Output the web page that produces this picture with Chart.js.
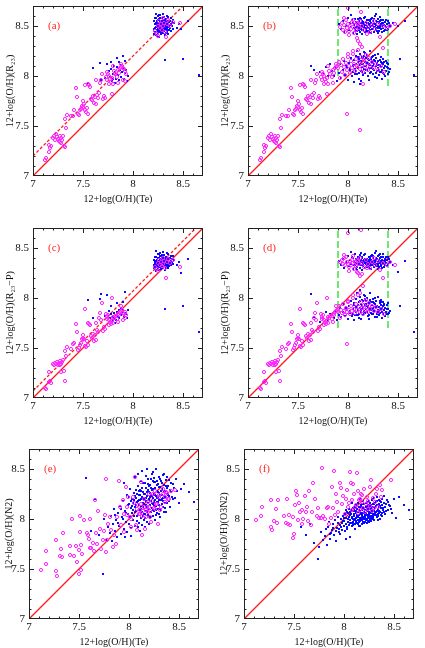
<!DOCTYPE html>
<html>
<head>
<meta charset="utf-8">
<script src="https://cdn.jsdelivr.net/npm/chart.js@4.4.1/dist/chart.umd.min.js"></script>
<style>
html, body { margin: 0; padding: 0; background: #fff; overflow: hidden; width: 425px; height: 648px; }
canvas { position: absolute; }
</style>
</head>
<body>
<canvas id="pa" width="211" height="214" style="left:0;top:0"></canvas>
<canvas id="pb" width="211" height="214" style="left:215px;top:0"></canvas>
<canvas id="pc" width="211" height="214" style="left:0;top:222px"></canvas>
<canvas id="pd" width="211" height="214" style="left:215px;top:222px"></canvas>
<canvas id="pe" width="207" height="214" style="left:0;top:443px"></canvas>
<canvas id="pf" width="207" height="214" style="left:215px;top:443px"></canvas>
<script>
// H II regions (open circles): Te, R23, R23-P
const magAC = [
  [7.12,7.16,7.10],[7.13,7.18,7.09],[7.16,7.24,7.16],[7.17,7.28,7.17],[7.16,7.31,7.26],[7.18,7.30,7.15],
  [7.20,7.38,7.34],[7.21,7.40,7.33],[7.22,7.36,7.35],[7.23,7.42,7.34],[7.24,7.39,7.36],[7.25,7.37,7.33],
  [7.26,7.35,7.35],[7.27,7.34,7.37],[7.28,7.38,7.34],[7.29,7.36,7.36],[7.30,7.40,7.38],[7.31,7.30,7.27],
  [7.32,7.29,7.17],[7.33,7.48,7.42],[7.27,7.40,7.33],[7.28,7.33,7.26],[7.32,7.57,7.47],[7.34,7.61,7.51],
  [7.38,7.60,7.49],[7.40,7.60,7.54],[7.41,7.66,7.55],[7.43,7.88,7.74],[7.44,7.79,7.66],[7.45,7.62,7.48],
  [7.46,7.61,7.50],[7.47,7.66,7.53],[7.48,7.67,7.55],[7.49,7.70,7.59],[7.50,7.69,7.60],[7.50,7.75,7.63],
  [7.51,7.72,7.59],[7.52,7.91,7.89],[7.52,7.66,7.52],[7.53,7.64,7.51],[7.54,7.68,7.57],[7.55,7.92,7.75],
  [7.55,7.62,7.53],[7.56,7.91,7.74],[7.57,7.89,7.73],[7.58,7.77,7.62],[7.59,7.76,7.60],[7.60,7.80,7.64],
  [7.61,7.73,7.57],[7.62,7.79,7.63],[7.63,7.72,7.58],[7.64,7.81,7.68],[7.65,7.78,7.66],[7.66,7.83,7.80],
  [7.67,7.93,7.85],[7.68,7.96,7.78],[7.70,7.77,7.67],[7.71,7.80,7.71],[7.72,7.78,7.69],[7.73,7.99,7.84],
  [7.74,7.96,7.81],[7.75,8.02,7.83],[7.76,8.00,7.78],[7.77,7.97,7.76],[7.78,7.94,7.74],[7.79,7.82,8.00],
  [7.79,7.98,7.77],[7.80,7.92,7.75],[7.81,8.05,7.80],[7.76,7.92,7.73],[7.74,8.04,7.79],[7.82,8.02,7.82],
  [7.84,7.99,7.79],[7.85,8.06,7.84],[7.86,8.03,7.83],[7.87,8.08,7.86],[7.88,8.09,7.87],[7.89,8.10,7.88],
  [7.90,8.08,7.85],[7.91,8.07,7.84],[7.92,8.05,7.86],[7.93,8.02,7.83],[7.90,7.96,7.78],[7.92,7.95,7.80],
  [7.88,8.12,7.92],[7.80,8.10,7.81],[7.85,7.93,7.76],[7.63,7.96,7.75],[7.69,8.02,7.95],
  [8.22,8.45,8.31],[8.24,8.42,8.29],[8.25,8.50,8.35],[8.26,8.55,8.38],[8.27,8.48,8.33],[8.28,8.52,8.36],
  [8.29,8.46,8.32],[8.30,8.50,8.34],[8.31,8.53,8.37],[8.32,8.44,8.30],[8.33,8.39,8.20],[8.34,8.52,8.36],
  [8.35,8.56,8.39],[8.37,8.50,8.35],[8.40,8.54,8.38],[8.47,8.53,8.31],[8.25,8.40,8.27],[8.30,8.58,8.40]
];

// SDSS galaxies (dots): Te, R23, R23-P
const blueAC = [
  [8.21,8.47,8.33],[8.22,8.52,8.36],[8.22,8.44,8.31],[8.23,8.58,8.41],[8.23,8.49,8.35],[8.23,8.41,8.27],
  [8.24,8.55,8.38],[8.24,8.46,8.32],[8.24,8.51,8.34],[8.25,8.60,8.44],[8.25,8.48,8.36],[8.25,8.43,8.30],
  [8.25,8.53,8.37],[8.26,8.50,8.35],[8.26,8.45,8.33],[8.26,8.57,8.40],[8.26,8.39,8.28],[8.27,8.52,8.36],
  [8.27,8.47,8.34],[8.27,8.55,8.39],[8.27,8.44,8.31],[8.27,8.61,8.45],[8.28,8.49,8.35],[8.28,8.53,8.38],
  [8.28,8.46,8.33],[8.28,8.58,8.42],[8.28,8.42,8.29],[8.29,8.51,8.37],[8.29,8.48,8.34],[8.29,8.55,8.40],
  [8.29,8.44,8.32],[8.30,8.50,8.36],[8.30,8.47,8.33],[8.30,8.56,8.41],[8.30,8.53,8.38],[8.30,8.43,8.30],
  [8.31,8.49,8.35],[8.31,8.52,8.37],[8.31,8.45,8.32],[8.31,8.59,8.43],[8.32,8.51,8.36],[8.32,8.48,8.34],
  [8.32,8.54,8.39],[8.32,8.41,8.28],[8.33,8.50,8.35],[8.33,8.46,8.33],[8.33,8.57,8.41],[8.34,8.52,8.37],
  [8.34,8.48,8.34],[8.34,8.44,8.31],[8.35,8.53,8.38],[8.35,8.49,8.35],[8.35,8.59,8.44],[8.36,8.51,8.36],
  [8.36,8.46,8.32],[8.37,8.55,8.40],[8.37,8.48,8.34],[8.38,8.52,8.37],[8.38,8.45,8.33],[8.39,8.50,8.36],
  [8.40,8.56,8.42],[8.40,8.47,8.34],[8.41,8.53,8.38],[8.21,8.55,8.38],[8.22,8.48,8.34],[8.23,8.62,8.47],
  [8.24,8.40,8.28],[8.25,8.56,8.40],[8.26,8.53,8.37],[8.27,8.49,8.35],[8.28,8.51,8.36],[8.29,8.58,8.43],
  [8.30,8.45,8.31],[8.31,8.54,8.39],[8.32,8.47,8.33],[8.33,8.53,8.38],[8.34,8.60,8.45],[8.35,8.46,8.33],
  [8.36,8.54,8.39],[8.37,8.51,8.36],[8.38,8.58,8.42],[8.26,8.47,8.33],[8.27,8.58,8.42],[8.28,8.45,8.32],
  [8.29,8.52,8.37],[8.30,8.62,8.46],[8.31,8.47,8.33],[8.32,8.56,8.40],[8.33,8.43,8.30],[8.24,8.50,8.35],
  [8.25,8.45,8.32],[8.22,8.58,8.41],[8.23,8.53,8.37],[8.34,8.55,8.40],[8.36,8.49,8.35],[8.39,8.54,8.39],
  [8.21,8.42,8.30],[8.26,8.61,8.44],[8.35,8.42,8.30],
  [8.44,8.48,8.33],[8.46,8.52,8.36],[8.55,8.55,8.39],[8.32,8.16,7.89],[8.50,8.17,7.92],[8.66,8.01,7.66],
  [8.48,8.47,8.25],
  [7.60,8.08,7.80],[7.67,8.13,7.99],[7.72,7.98,7.82],[7.74,8.12,8.03],[7.76,8.05,7.87],[7.77,7.99,7.80],
  [7.78,8.07,7.84],[7.79,7.95,7.76],[7.80,8.02,7.81],[7.81,8.10,7.85],[7.82,8.04,7.79],[7.83,7.97,7.78],
  [7.84,8.09,7.86],[7.85,8.01,7.82],[7.86,8.14,7.88],[7.86,7.96,7.80],[7.87,8.06,7.84],[7.88,8.11,7.90],
  [7.88,7.99,7.83],[7.89,8.04,7.86],[7.90,8.20,7.96],[7.90,8.08,7.88],[7.91,7.97,7.81],[7.92,8.03,7.85],
  [7.93,8.06,7.84],[7.94,7.95,7.80],[7.95,8.00,7.88],[7.78,8.14,7.92],[7.82,7.93,7.75],[7.84,8.18,7.95],
  [7.80,7.97,7.78],[7.92,8.15,8.06],[7.55,7.93,7.98],[7.68,7.96,8.04]
];

// double-valued region: upper and lower branch, Te, R23, R23-P
const magBDup = [
  [7.92,8.49,8.36],[7.94,8.53,8.38],[7.95,8.46,8.34],[7.96,8.51,8.40],[7.97,8.44,8.33],[7.98,8.56,8.41],
  [7.99,8.48,8.36],[8.00,8.52,8.34],[8.01,8.45,8.31],[8.02,8.50,8.37],[8.03,8.47,8.33],[8.04,8.54,8.38],
  [8.05,8.49,8.35],[8.06,8.43,8.29],[8.07,8.51,8.36],[8.08,8.46,8.32],[8.10,8.52,8.37],[8.11,8.48,8.34],
  [8.12,8.55,8.40],[8.14,8.50,8.35],[8.16,8.46,8.31],[8.18,8.53,8.38],[8.20,8.49,8.34],[8.22,8.44,8.30],
  [8.24,8.51,8.36],[8.27,8.47,8.33],[8.30,8.52,8.37],[8.32,8.39,8.28],[8.35,8.50,8.35],[8.39,8.48,8.33],
  [8.42,8.50,8.36],[8.47,8.52,8.33],[8.00,8.68,8.65],[8.13,8.64,8.68],[8.10,8.35,8.25],[8.12,8.32,8.22],
  [8.09,8.38,8.26],[8.14,8.29,8.24],[7.96,8.58,8.43],[8.01,8.41,8.27],[8.05,8.56,8.42],[8.09,8.53,8.38],
  [8.26,8.55,8.40],[8.19,8.42,8.30]
];
const magBDlo = [
  [7.90,8.08,7.86],[7.91,8.14,7.92],[7.92,7.98,7.80],[7.93,8.11,7.88],[7.94,8.04,7.85],[7.95,8.17,7.94],
  [7.96,8.09,7.87],[7.97,8.01,7.83],[7.98,8.13,7.90],[7.99,8.06,7.86],[8.00,8.19,7.96],[8.01,8.10,7.88],
  [8.02,8.03,7.84],[8.03,8.15,7.92],[8.04,8.08,7.87],[8.05,8.22,8.00],[8.06,8.12,7.89],[8.07,8.05,7.85],
  [8.08,8.17,7.94],[8.09,8.10,7.88],[8.10,8.26,8.03],[8.11,8.14,7.91],[8.12,8.07,7.86],[8.13,8.19,7.96],
  [8.14,8.11,7.90],[8.15,8.04,7.84],[8.16,8.16,7.93],[8.17,8.09,7.88],[8.18,8.21,7.98],[8.19,8.13,7.91],
  [8.20,8.06,7.86],[8.21,8.18,7.95],[8.22,8.10,7.89],[8.24,8.14,7.92],[8.26,8.08,7.87],[8.28,8.12,7.91],
  [8.30,8.06,7.86],[8.33,8.10,7.89],[8.36,8.04,7.84],[7.99,7.62,7.54],[8.12,7.46,8.05],[8.15,7.92,8.12],
  [8.35,8.28,8.20],[8.05,8.25,8.03],[8.00,8.22,7.97]
];
const blueBDup = [
  [7.91,8.52,8.37],[7.93,8.47,8.33],[7.95,8.55,8.39],[7.96,8.44,8.30],[7.98,8.50,8.36],[8.00,8.58,8.42],
  [8.01,8.46,8.32],[8.02,8.53,8.38],[8.03,8.49,8.34],[8.04,8.56,8.41],[8.05,8.43,8.29],[8.06,8.51,8.36],
  [8.07,8.47,8.33],[8.08,8.54,8.39],[8.08,8.49,8.35],[8.09,8.45,8.31],[8.10,8.52,8.37],[8.10,8.57,8.41],
  [8.11,8.48,8.34],[8.12,8.50,8.35],[8.12,8.44,8.30],[8.13,8.53,8.38],[8.13,8.47,8.33],[8.14,8.55,8.40],
  [8.14,8.50,8.36],[8.15,8.46,8.32],[8.15,8.52,8.37],[8.16,8.49,8.35],[8.16,8.58,8.43],[8.17,8.44,8.30],
  [8.17,8.51,8.36],[8.18,8.47,8.34],[8.18,8.54,8.39],[8.19,8.50,8.35],[8.19,8.45,8.31],[8.20,8.53,8.38],
  [8.20,8.48,8.34],[8.21,8.56,8.41],[8.21,8.51,8.36],[8.22,8.46,8.32],[8.22,8.49,8.35],[8.23,8.53,8.38],
  [8.23,8.43,8.29],[8.24,8.58,8.43],[8.24,8.50,8.36],[8.25,8.47,8.33],[8.25,8.55,8.40],[8.26,8.52,8.37],
  [8.26,8.44,8.31],[8.27,8.49,8.35],[8.27,8.60,8.45],[8.28,8.51,8.37],[8.28,8.46,8.32],[8.29,8.54,8.39],
  [8.29,8.48,8.34],[8.30,8.50,8.36],[8.30,8.57,8.42],[8.31,8.45,8.31],[8.31,8.53,8.38],[8.32,8.49,8.35],
  [8.32,8.55,8.40],[8.33,8.47,8.33],[8.33,8.52,8.37],[8.34,8.50,8.36],[8.34,8.44,8.30],[8.35,8.56,8.41],
  [8.35,8.48,8.34],[8.36,8.51,8.37],[8.37,8.46,8.33],[8.37,8.54,8.39],[8.38,8.49,8.35],[8.39,8.52,8.38],
  [8.40,8.47,8.34],[8.41,8.53,8.39],[8.42,8.50,8.36],[8.03,8.61,8.46],[8.09,8.42,8.28],[8.11,8.55,8.40],
  [8.14,8.42,8.28],[8.17,8.59,8.44],[8.19,8.53,8.39],[8.21,8.44,8.30],[8.23,8.57,8.42],[8.26,8.49,8.34],
  [8.28,8.62,8.47],[8.30,8.43,8.29],[8.32,8.59,8.44],[8.34,8.53,8.38],[8.36,8.45,8.31],[8.38,8.56,8.41],
  [8.12,8.58,8.43],[8.15,8.49,8.34],[8.18,8.51,8.37],[8.20,8.45,8.31],[8.22,8.55,8.40],[8.24,8.47,8.33],
  [8.27,8.52,8.38],[8.29,8.45,8.32],[8.31,8.50,8.35],[8.33,8.56,8.41],[8.35,8.51,8.37],[8.06,8.48,8.33],
  [8.08,8.45,8.30],[8.10,8.49,8.34],[8.13,8.50,8.36],[8.16,8.53,8.38],[8.19,8.48,8.33],
  [8.05,8.53,8.40],[8.07,8.57,8.44],[8.09,8.51,8.37],[8.11,8.46,8.35],[8.13,8.57,8.45],[8.15,8.54,8.33],
  [8.17,8.48,8.39],[8.19,8.56,8.36],[8.21,8.48,8.41],[8.23,8.50,8.33],[8.25,8.52,8.42],[8.26,8.57,8.35],
  [8.28,8.48,8.40],[8.30,8.54,8.33],[8.31,8.48,8.43],[8.33,8.50,8.32],[8.35,8.53,8.44],[8.37,8.50,8.37],
  [8.39,8.46,8.32],[8.40,8.55,8.41],[8.22,8.52,8.38],[8.18,8.45,8.36],[8.14,8.46,8.41],[8.28,8.55,8.34]
];
const blueBDlo = [
  [7.86,8.00,7.80],[7.88,8.08,7.86],[7.89,7.95,7.78],[7.91,8.03,7.83],[7.92,8.12,7.90],[7.93,7.98,7.81],
  [7.95,8.06,7.86],[7.96,8.15,7.94],[7.97,8.01,7.82],[7.99,8.09,7.88],[8.00,7.96,7.79],[8.01,8.13,7.92],
  [8.02,8.05,7.85],[8.03,8.18,7.97],[8.04,8.00,7.82],[8.05,8.10,7.89],[8.06,8.16,7.95],[8.06,7.94,7.78],
  [8.07,8.07,7.87],[8.08,8.12,7.91],[8.08,8.20,7.99],[8.09,8.02,7.83],[8.10,8.14,7.93],[8.10,8.08,7.88],
  [8.11,8.17,7.96],[8.11,7.97,7.80],[8.12,8.11,7.90],[8.12,8.22,8.01],[8.13,8.05,7.86],[8.13,8.15,7.94],
  [8.14,8.09,7.89],[8.14,8.19,7.98],[8.15,8.01,7.83],[8.15,8.12,7.91],[8.16,8.24,8.03],[8.16,8.07,7.87],
  [8.17,8.14,7.93],[8.17,8.03,7.85],[8.18,8.18,7.97],[8.18,8.10,7.89],[8.19,8.06,7.86],[8.19,8.21,8.00],
  [8.20,8.13,7.92],[8.20,8.00,7.82],[8.21,8.16,7.95],[8.21,8.08,7.88],[8.22,8.11,7.90],[8.22,8.25,8.05],
  [8.23,8.04,7.85],[8.23,8.17,7.96],[8.24,8.09,7.89],[8.24,8.14,7.93],[8.25,8.02,7.84],[8.25,8.20,7.99],
  [8.26,8.12,7.91],[8.26,8.06,7.87],[8.27,8.15,7.94],[8.27,7.99,7.81],[8.28,8.10,7.90],[8.28,8.18,7.97],
  [8.29,8.05,7.86],[8.29,8.13,7.92],[8.30,8.08,7.88],[8.30,8.22,8.01],[8.31,8.01,7.83],[8.31,8.11,7.91],
  [8.32,8.16,7.95],[8.32,8.04,7.85],[8.33,8.09,7.89],[8.33,8.19,7.98],[8.34,8.06,7.86],[8.34,7.97,7.80],
  [8.35,8.12,7.92],[8.35,8.03,7.84],[8.36,8.14,7.94],[8.36,8.08,7.88],[8.37,8.00,7.82],[8.37,8.10,7.90],
  [8.38,8.05,7.86],[8.39,8.13,7.93],[8.40,8.02,7.84],[8.40,8.08,7.89],[8.41,8.04,7.85],[8.42,8.07,7.87],
  [8.09,8.25,8.05],[8.13,7.95,7.79],[8.17,8.23,8.02],[8.21,7.96,7.79],[8.25,8.10,7.90],[8.29,7.98,7.81],
  [8.33,8.14,7.93],[8.05,8.04,7.84],[8.11,8.03,7.84],[8.15,8.18,7.97],[8.19,8.13,7.92],[8.23,8.08,7.88],
  [8.27,8.21,8.00],[8.31,8.06,7.87],[8.35,8.17,7.96],[8.39,8.09,7.89],[7.98,8.11,7.90],[8.02,8.07,7.87],
  [8.07,8.02,7.83],
  [8.06,8.11,7.93],[8.08,8.05,7.86],[8.10,8.19,7.83],[8.12,8.15,7.97],[8.14,8.04,7.92],[8.16,8.20,7.85],
  [8.18,8.06,7.94],[8.20,8.17,7.90],[8.22,8.03,7.98],[8.24,8.19,7.84],[8.26,8.16,7.95],[8.28,8.03,7.92],
  [8.30,8.15,7.86],[8.32,8.10,7.97],[8.34,8.13,7.90],[8.36,8.02,7.93],[8.38,8.15,7.84],[8.40,8.12,7.95],
  [8.17,8.10,7.99],[8.21,8.12,7.83],[8.25,8.07,7.96],[8.29,8.11,7.84],[8.13,8.12,7.88],[8.33,8.04,7.96]
];
const blueBDout = [
  [7.75,8.03,7.80],[7.78,8.09,7.86],[7.80,8.00,7.78],[7.82,8.12,7.84],[7.84,8.05,7.83],[7.72,8.04,7.76],
  [7.63,8.10,8.04],[7.66,8.06,7.81],[8.52,8.17,7.92],[8.66,8.01,7.66],[8.50,8.50,8.26],[8.45,8.53,8.33],
  [8.12,7.92,8.08],[8.57,8.55,8.37]
];

// Te vs N2 and Te vs O3N2
const magE = [
  [7.12,7.49],[7.17,7.55],[7.17,7.68],[7.27,7.79],[7.27,7.48],[7.28,7.43],[7.31,7.63],[7.32,7.70],
  [7.34,7.86],[7.33,7.62],[7.41,7.64],[7.41,7.73],[7.43,8.00],[7.45,7.63],[7.47,7.73],[7.48,7.57],
  [7.50,7.69],[7.51,7.87],[7.51,8.03],[7.50,7.45],[7.52,7.49],[7.52,7.74],[7.53,7.65],[7.55,7.99],
  [7.58,7.86],[7.59,7.84],[7.60,7.80],[7.61,7.71],[7.61,8.00],[7.62,7.71],[7.64,7.76],[7.66,8.19],
  [7.65,7.68],[7.68,7.75],[7.67,7.86],[7.69,8.08],[7.71,7.90],[7.72,7.70],[7.74,7.79],[7.75,7.88],
  [7.76,8.04],[7.77,8.40],[7.78,7.79],[7.77,7.67],[7.79,7.95],[7.81,8.02],[7.82,7.89],[7.84,7.72],
  [7.85,7.84],[7.87,7.75],[7.88,8.02],[7.90,8.38],[7.91,8.12],[7.92,7.94],[7.94,8.19],[7.95,7.87],
  [7.97,8.32],[7.98,8.04],[7.99,8.22],[8.01,8.02],[8.02,7.92],[8.04,8.22],[8.06,8.42],[8.07,7.94],
  [8.08,7.89],[8.09,8.14],[8.11,8.05],[8.12,8.37],[8.13,7.84],[8.15,8.12],[8.16,7.90],[8.17,8.09],
  [8.19,8.17],[8.20,8.12],[8.21,8.02],[8.22,7.97],[8.24,8.25],[8.26,8.10],[8.27,8.15],[8.29,7.95],
  [8.30,8.22],[8.31,8.09],[8.34,8.25],[8.36,8.17],[8.37,8.27],[8.39,8.20],[8.46,8.29],
  [8.08,8.10],[8.10,8.05],[8.12,8.15],[8.14,8.08],[8.15,8.20],[8.17,8.02],[8.18,8.12],[8.20,8.25],
  [8.21,8.08],[8.23,8.18],[8.25,8.11],[8.26,8.28],[8.28,8.15],[8.30,8.24],[8.32,8.12],[8.34,8.30],
  [8.36,8.22],[8.38,8.26],[8.40,8.20],[8.42,8.28],[8.05,8.16],[8.02,8.00],[7.98,8.12],[7.95,8.05],
  [8.11,8.09],[8.13,8.03],[8.19,8.07]
];
const magF = [
  [7.12,7.99],[7.17,8.03],[7.18,8.12],[7.27,8.19],[7.27,7.92],[7.28,7.89],[7.30,7.98],[7.32,8.10],
  [7.33,7.96],[7.34,8.19],[7.40,8.03],[7.42,7.96],[7.43,8.20],[7.44,7.95],[7.45,8.04],[7.46,7.94],
  [7.49,8.02],[7.49,7.81],[7.50,7.85],[7.51,8.14],[7.52,8.28],[7.53,8.24],[7.54,7.99],[7.55,8.16],
  [7.56,8.07],[7.58,7.95],[7.58,8.09],[7.59,8.00],[7.61,8.23],[7.62,8.07],[7.63,8.12],[7.64,7.98],
  [7.65,8.28],[7.67,7.94],[7.68,8.07],[7.69,8.36],[7.71,8.20],[7.73,8.03],[7.74,8.11],[7.75,8.01],
  [7.77,8.01],[7.78,8.51],[7.79,8.03],[7.81,8.00],[7.83,8.11],[7.84,8.12],[7.85,7.95],[7.87,8.01],
  [7.88,8.32],[7.89,8.11],[7.90,8.48],[7.91,8.04],[7.92,8.25],[7.93,8.17],[7.94,8.07],[7.96,8.36],
  [7.97,8.31],[7.98,8.15],[7.99,8.23],[8.01,8.05],[8.03,8.29],[8.04,8.12],[8.06,8.47],[8.07,8.36],
  [8.08,8.19],[8.09,8.35],[8.10,8.25],[8.11,8.12],[8.13,8.46],[8.14,8.28],[8.15,8.19],[8.16,8.09],
  [8.17,8.25],[8.18,8.17],[8.20,8.30],[8.22,8.15],[8.23,8.22],[8.24,8.10],[8.26,8.32],[8.27,8.39],
  [8.29,8.21],[8.30,8.11],[8.32,8.25],[8.33,8.30],[8.36,8.34],[8.38,8.29],[8.47,8.39],
  [8.08,8.09],[8.12,8.14],[8.14,8.06],[8.16,8.20],[8.19,8.11],[8.21,8.07],[8.24,8.18],[8.26,8.13],
  [8.28,8.08],[8.31,8.17],[8.34,8.12],[8.37,8.22],[8.18,8.24],[8.05,8.16],[8.02,8.20]
];
const blueEF = [
  [7.57,8.41,7.92],[7.62,7.88,7.84],[7.66,8.20,7.95],[7.70,7.84,7.76],[7.74,7.45,7.60],[7.75,8.00,7.72],
  [7.77,7.79,7.87],[7.79,7.92,7.79],[7.81,7.86,7.83],[7.82,8.03,7.90],[7.83,7.78,7.74],[7.84,7.95,7.92],
  [7.85,8.10,7.97],[7.86,7.88,7.80],[7.87,7.99,7.86],[7.88,7.82,7.89],[7.89,8.06,7.95],[7.90,7.93,7.84],
  [7.91,8.13,7.99],[7.92,7.85,7.78],[7.93,8.02,7.91],[7.94,8.18,8.02],[7.95,7.90,7.87],[7.96,8.08,7.94],
  [7.97,7.97,8.00],[7.98,8.24,7.96],[7.98,7.87,7.89],[7.99,8.05,8.03],[8.00,8.15,7.93],[8.00,7.95,7.98],
  [8.01,8.30,8.05],[8.01,8.02,7.88],[8.02,8.11,8.01],[8.02,7.91,7.95],[8.03,8.20,8.07],[8.03,8.06,7.92],
  [8.04,7.99,8.00],[8.04,8.16,7.97],[8.05,8.26,8.10],[8.05,8.03,7.94],[8.06,8.12,8.04],[8.06,7.93,7.99],
  [8.07,8.21,7.96],[8.07,8.08,8.08],[8.08,7.98,7.93],[8.08,8.17,8.02],[8.09,8.33,8.11],[8.09,8.05,7.97],
  [8.10,8.14,8.05],[8.10,7.96,7.99],[8.10,8.24,8.03],[8.11,8.09,7.95],[8.11,8.19,8.08],[8.12,8.01,8.01],
  [8.12,8.28,7.98],[8.12,8.13,8.06],[8.13,7.94,7.96],[8.13,8.22,8.10],[8.13,8.07,8.03],[8.14,8.16,7.99],
  [8.14,8.36,8.07],[8.14,8.03,8.02],[8.15,8.20,8.12],[8.15,8.10,7.97],[8.15,7.99,8.04],[8.16,8.25,8.01],
  [8.16,8.14,8.08],[8.16,8.05,7.98],[8.17,8.31,8.05],[8.17,8.18,8.14],[8.17,8.08,8.00],[8.18,7.97,8.03],
  [8.18,8.23,7.99],[8.18,8.12,8.09],[8.19,8.40,8.06],[8.19,8.16,8.02],[8.19,8.04,8.11],[8.20,8.27,8.00],
  [8.20,8.10,8.07],[8.20,8.20,8.15],[8.21,8.01,8.04],[8.21,8.34,8.09],[8.21,8.14,8.01],[8.22,8.24,8.12],
  [8.22,8.07,8.06],[8.22,8.18,7.99],[8.23,8.45,8.10],[8.23,8.11,8.04],[8.23,8.29,8.17],[8.24,8.03,8.02],
  [8.24,8.21,8.08],[8.24,8.15,8.13],[8.25,8.37,8.05],[8.25,8.08,8.10],[8.25,8.25,8.01],[8.26,8.19,8.16],
  [8.26,7.99,8.07],[8.26,8.31,8.03],[8.27,8.13,8.11],[8.27,8.23,8.06],[8.27,8.50,8.14],[8.28,8.06,8.03],
  [8.28,8.28,8.19],[8.28,8.17,8.08],[8.29,8.35,8.12],[8.29,8.10,8.05],[8.29,8.22,8.02],[8.30,8.42,8.15],
  [8.30,8.14,8.09],[8.30,8.26,8.21],[8.31,8.02,8.06],[8.31,8.32,8.11],[8.32,8.19,8.04],[8.32,8.38,8.17],
  [8.32,8.09,8.13],[8.33,8.24,8.08],[8.33,8.30,8.22],[8.34,8.12,8.10],[8.34,8.44,8.05],[8.35,8.21,8.15],
  [8.35,8.34,8.12],[8.36,8.16,8.07],[8.36,8.28,8.18],[8.37,8.39,8.11],[8.37,8.07,8.04],[8.38,8.25,8.14],
  [8.39,8.33,8.09],[8.40,8.18,8.16],[8.41,8.29,8.12],[8.42,8.36,8.08],[8.43,8.22,8.19],[8.45,8.31,8.14],
  [8.47,8.40,8.10],[8.50,8.16,8.20],[8.52,8.30,8.01],[8.55,8.35,8.22],[8.60,8.27,8.14],[8.65,8.17,8.09],
  [7.95,8.36,7.90],[8.06,8.42,7.82],[8.02,7.83,7.80],[8.11,7.88,7.90],[8.16,7.92,7.93],[8.20,7.95,7.96],
  [8.09,8.45,8.00],[8.13,8.48,8.02],[8.18,8.50,7.95],[8.24,8.47,7.98],[8.19,8.29,8.00],[8.14,8.27,8.03],
  [8.12,8.20,7.97],[8.17,8.21,8.06],[8.21,8.26,8.03],[8.23,8.16,8.00],[8.26,8.12,7.99],[8.29,8.17,8.01],
  [8.31,8.24,8.16],[8.33,8.15,8.02],[8.35,8.27,8.06],[8.38,8.31,8.03],[8.40,8.23,8.07],[8.36,8.11,8.00],
  [8.28,8.34,8.00],[8.22,8.31,8.13],[8.15,8.15,8.09],[8.10,8.19,8.12],[8.07,8.14,8.09],[8.04,8.09,8.06],
  [8.27,8.09,7.98],[8.25,8.41,8.18],[8.19,8.35,8.18],[8.11,8.29,8.14],[8.16,8.36,8.20],[8.21,8.22,7.97],
  [8.30,8.05,7.99],[8.24,8.38,8.04],[8.34,8.21,7.99],[8.08,8.25,8.16],[8.12,8.10,8.14],[8.02,8.18,8.09],
  [8.05,8.19,8.02],[8.06,8.07,7.96],[8.07,8.29,8.05],[8.08,8.03,8.01],[8.09,8.18,7.94],[8.10,8.09,8.08],
  [8.11,8.24,8.00],[8.12,8.06,8.11],[8.13,8.31,8.04],[8.14,8.12,7.95],[8.15,8.25,8.07],[8.16,8.01,8.00],
  [8.17,8.14,8.12],[8.18,8.27,8.04],[8.19,8.09,7.97],[8.20,8.33,8.10],[8.21,8.18,8.05],[8.22,8.02,8.09],
  [8.23,8.23,7.96],[8.24,8.30,8.11],[8.25,8.17,8.06],[8.26,8.24,8.13],[8.27,8.04,8.01],[8.28,8.38,8.09],
  [8.29,8.27,8.15],[8.30,8.19,8.04],[8.31,8.10,8.11],[8.32,8.28,8.07],[8.33,8.36,8.14],[8.34,8.18,8.03],
  [8.35,8.07,8.08],[8.36,8.22,8.13],[8.37,8.33,8.17],[8.38,8.16,8.06],[8.39,8.24,8.11],[8.41,8.12,8.05],
  [8.42,8.27,8.15],[8.44,8.35,8.09],[8.46,8.21,8.13],[8.48,8.28,8.06],[7.99,8.14,7.98],[7.97,8.06,7.92],
  [7.94,8.00,7.96],[7.92,8.10,7.88],[7.89,7.96,7.91],[7.86,8.04,7.85],[8.00,8.22,8.01],[8.03,8.13,7.90],
  [8.15,8.05,7.93],[8.20,8.03,8.02],[8.25,8.14,7.97],[8.30,8.32,8.08],[8.22,8.40,8.16],[8.17,8.43,8.01],
  [8.12,8.38,8.08],[8.28,8.21,8.20],[8.33,8.20,8.18],[8.24,8.09,8.14],[8.18,8.07,8.15],[8.14,8.21,8.16],
  [8.10,8.28,8.09],[8.06,8.23,8.07],[8.09,7.92,7.96],[8.26,8.37,8.10],[8.31,8.40,8.12],[8.35,8.45,8.19],
  [8.38,8.42,8.20],[8.40,8.39,8.23],[8.44,8.20,8.17],[7.96,7.82,7.85]
];

const axisRange = [7, 8.7];
const tickLabels = [7, 7.5, 8, 8.5];
const shiftR23 = 0.2;      // dashed fit in (a)
const shiftR23P = 0.07;    // dashed fit in (c)
const branchTe = [7.9, 8.4];
const branchLowB = [8.0, 7.9];
const branchLowD = [7.7, 7.7];

const FONT = '"Liberation Serif", "DejaVu Serif", serif';
const MAG = '#ff22ff', BLUE = '#0000ff', RED = '#ff1a1a', GREEN = '#22dd22';

function circles(rows, col) {
  return { data: rows.map(r => ({ x: r[0], y: r[col] })), pointStyle: 'circle', pointRadius: 1.6,
    borderColor: MAG, borderWidth: 1, backgroundColor: 'rgba(0,0,0,0)', order: 0 };
}
function dots(rows, col) {
  return { data: rows.map(r => ({ x: r[0], y: r[col] })), pointStyle: 'rect', pointRadius: 1.35,
    backgroundColor: BLUE, borderWidth: 0, order: 1 };
}

// guide lines: [[x0, y0], [x1, y1]], colour, dash
function oneToOne() {
  return { pts: [[axisRange[0], axisRange[0]], [axisRange[1], axisRange[1]]], color: RED, dash: [] };
}
function shifted(s) {
  return { pts: [[axisRange[0], axisRange[0] + s], [axisRange[1] - s, axisRange[1]]], color: RED, dash: [3, 2] };
}
function branches(lows) {
  return branchTe.map((t, i) => ({ pts: [[t, lows[i]], [t, axisRange[1]]], color: GREEN, dash: [7, 3] }));
}

const guideLines = {
  id: 'guideLines',
  beforeDatasetsDraw(chart, args, opts) {
    const { ctx, chartArea: a, scales } = chart;
    ctx.save();
    ctx.beginPath();
    ctx.rect(a.left, a.top, a.right - a.left, a.bottom - a.top);
    ctx.clip();
    ctx.lineWidth = 1.3;
    opts.lines.forEach(g => {
      ctx.strokeStyle = g.color;
      ctx.setLineDash(g.dash);
      ctx.beginPath();
      ctx.moveTo(scales.x.getPixelForValue(g.pts[0][0]), scales.y.getPixelForValue(g.pts[0][1]));
      ctx.lineTo(scales.x.getPixelForValue(g.pts[1][0]), scales.y.getPixelForValue(g.pts[1][1]));
      ctx.stroke();
    });
    ctx.restore();
  }
};

// frame, inward ticks on all sides, and the panel tag
const frameTicks = {
  id: 'frameTicks',
  afterDatasetsDraw(chart, args, opts) {
    const { ctx, chartArea: a, scales } = chart;
    ctx.save();
    ctx.strokeStyle = '#222';
    ctx.lineWidth = 1;
    ctx.setLineDash([]);
    ctx.strokeRect(a.left + 0.5, a.top + 0.5, a.right - a.left - 1, a.bottom - a.top - 1);
    ctx.beginPath();
    for (let i = 1; i < 17; i++) {
      const v = axisRange[0] + i / 10;
      const len = i % 5 === 0 ? 5 : 2.5;
      const px = Math.round(scales.x.getPixelForValue(v)) + 0.5;
      const py = Math.round(scales.y.getPixelForValue(v)) + 0.5;
      ctx.moveTo(px, a.bottom); ctx.lineTo(px, a.bottom - len);
      ctx.moveTo(px, a.top); ctx.lineTo(px, a.top + len);
      ctx.moveTo(a.left, py); ctx.lineTo(a.left + len, py);
      ctx.moveTo(a.right, py); ctx.lineTo(a.right - len, py);
    }
    ctx.stroke();
    ctx.fillStyle = '#ff2a2a';
    ctx.font = '11px ' + FONT;
    ctx.textBaseline = 'middle';
    ctx.fillText(opts.text, scales.x.getPixelForValue(7.15), scales.y.getPixelForValue(8.5));
    ctx.restore();
  }
};

function axis(pos, title, size, pad) {
  return {
    type: 'linear', position: pos, min: axisRange[0], max: axisRange[1],
    grid: { display: false, drawTicks: false },
    border: { display: false },
    afterBuildTicks: s => { s.ticks = tickLabels.map(v => ({ value: v })); },
    ticks: { autoSkip: false, maxRotation: 0, padding: pos === 'left' ? 4 : 2, color: '#111',
      font: { family: FONT, size: 11 }, callback: v => String(v) },
    title: { display: true, text: title, color: '#111', font: { family: FONT, size: 10 },
      padding: { top: pad, bottom: pad } },
    afterFit: s => {
      if (pos === 'left') s.width = size; else s.height = size;
      s.paddingTop = s.paddingBottom = s.paddingLeft = s.paddingRight = 0;
    }
  };
}

function panel(id, tag, yTitle, datasets, lines, yWidth, yPad) {
  new Chart(document.getElementById(id), {
    type: 'scatter',
    data: { datasets: datasets },
    options: {
      responsive: false, animation: false, devicePixelRatio: 1,
      layout: { padding: { top: 6, right: 8, left: 0, bottom: 0 } },
      scales: {
        x: axis('bottom', '12+log(O/H)(Te)', 38, 9),
        y: axis('left', yTitle, yWidth, yPad)
      },
      plugins: {
        legend: { display: false }, tooltip: { enabled: false },
        frameTicks: { text: tag }, guideLines: { lines: lines }
      }
    },
    plugins: [guideLines, frameTicks]
  });
}

const lowAC = magAC.filter(r => r[0] < branchTe[0]);
const T_R23 = '12+log(O/H)(R\u2082\u2083)';
const T_R23P = '12+log(O/H)(R\u2082\u2083\u2212P)';

panel('pa', '(a)', T_R23, [circles(magAC, 1), dots(blueAC, 1)],
  [oneToOne(), shifted(shiftR23)], 33, 4);
panel('pb', '(b)', T_R23, [circles(lowAC.concat(magBDup, magBDlo), 1), dots(blueBDup.concat(blueBDlo, blueBDout), 1)],
  [oneToOne()].concat(branches(branchLowB)), 33, 4);
panel('pc', '(c)', T_R23P, [circles(magAC, 2), dots(blueAC, 2)],
  [oneToOne(), shifted(shiftR23P)], 33, 4);
panel('pd', '(d)', T_R23P, [circles(lowAC.concat(magBDup, magBDlo), 2), dots(blueBDup.concat(blueBDlo, blueBDout), 2)],
  [oneToOne()].concat(branches(branchLowD)), 33, 4);
panel('pe', '(e)', '12+log(O/H)(N2)', [circles(magE, 1), dots(blueEF, 1)], [oneToOne()], 29, 3);
panel('pf', '(f)', '12+log(O/H)(O3N2)', [circles(magF, 1), dots(blueEF, 2)], [oneToOne()], 29, 3);
</script>
</body>
</html>
